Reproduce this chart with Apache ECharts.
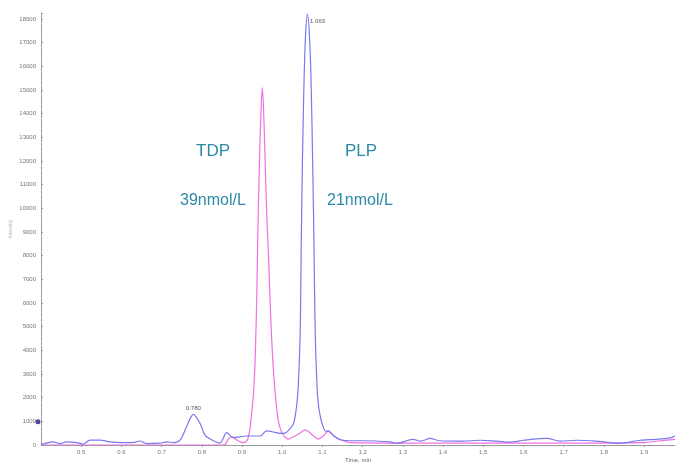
<!DOCTYPE html>
<html>
<head>
<meta charset="utf-8">
<script src="https://cdn.jsdelivr.net/npm/echarts@6/dist/echarts.min.js"></script>
<style>
  html, body { margin: 0; padding: 0; background: #fff; }
  #chart { width: 675px; height: 463px; }
</style>
</head>
<body>
<div id="chart"></div>
<script>
// PLP trace (blue), time in min / intensity
const plpTime = [
  0.400, 0.414, 0.430, 0.447, 0.464, 0.489, 0.505, 0.522, 0.547, 0.572,
  0.600, 0.629, 0.646, 0.663, 0.696, 0.713, 0.729, 0.746, 0.762, 0.779,
  0.796, 0.808, 0.829, 0.845, 0.862, 0.878, 0.912, 0.945, 0.961, 0.975,
  0.995, 1.007, 1.020, 1.028, 1.033, 1.038, 1.042, 1.045, 1.047, 1.050,
  1.054, 1.058, 1.063, 1.068, 1.072, 1.076, 1.079, 1.082, 1.086, 1.090,
  1.096, 1.102, 1.108, 1.114, 1.122, 1.131, 1.148, 1.169, 1.200, 1.268,
  1.285, 1.325, 1.345, 1.368, 1.390, 1.450, 1.492, 1.534, 1.567, 1.600,
  1.658, 1.691, 1.733, 1.782, 1.840, 1.890, 1.930, 1.965, 1.977
];
const plpValues = [
  30, 80, 130, 60, 130, 100, 40, 210, 210, 130,
  100, 100, 170, 60, 80, 130, 100, 210, 770, 1290,
  900, 420, 180, 80, 520, 310, 380, 380, 600, 560,
  490, 500, 700, 900, 1300, 2000, 3300, 5000, 8000, 11700,
  15200, 17300, 18200, 17200, 15200, 11700, 8400, 4800, 2700, 1700,
  1100, 750, 580, 600, 480, 350, 210, 180, 180, 130,
  70, 240, 160, 280, 180, 160, 200, 160, 120, 200,
  280, 160, 200, 160, 70, 200, 240, 300, 380
];

// TDP trace (pink)
const tdpTime = [
  0.400, 0.600, 0.850, 0.858, 0.866, 0.874, 0.887, 0.897, 0.905, 0.912,
  0.916, 0.920, 0.922, 0.925, 0.929, 0.932, 0.934, 0.937, 0.939, 0.943,
  0.947, 0.9505, 0.954, 0.958, 0.962, 0.965, 0.970, 0.974, 0.978, 0.982,
  0.986, 0.990, 0.996, 1.003, 1.015, 1.028, 1.040, 1.050, 1.057, 1.066,
  1.078, 1.090, 1.102, 1.115, 1.124, 1.135, 1.148, 1.170, 1.300, 1.500,
  1.700, 1.900, 1.940, 1.977
];
const tdpValues = [
  0, 0, 0, 20, 250, 350, 210, 120, 100, 170,
  350, 700, 1050, 1500, 2300, 3300, 4400, 6500, 8600, 11700,
  14000, 15100, 14000, 11700, 9500, 8400, 6000, 4400, 3200, 2300,
  1600, 1050, 650, 420, 250, 350, 450, 580, 640, 560,
  380, 250, 380, 600, 470, 300, 200, 100, 80, 80,
  80, 100, 180, 240
];

const xTicks = { min: 0.4, max: 1.977, interval: 0.1 };
const yTicks = { min: 0, max: 18250, interval: 1000 };

const peakLabels = [
  { name: '1.063', coord: [1.063, 18200], offset: [10, 7] },
  { name: '0.780', coord: [0.779, 1290], offset: [0, -6] }
];

const blue = '#7a78ee';
const pink = '#f070e2';

const chart = echarts.init(document.getElementById('chart'));

const option = {
  animation: false,
  backgroundColor: '#fff',
  grid: { left: 41, right: 0, top: 13, bottom: 18, containLabel: false, outerBoundsMode: 'none' },
  xAxis: {
    type: 'value',
    min: xTicks.min,
    max: xTicks.max,
    interval: xTicks.interval,
    name: 'Time, min',
    nameLocation: 'middle',
    nameGap: 12,
    nameMoveOverlap: false,
    nameTextStyle: { fontSize: 6, color: '#666' },
    axisLine: { lineStyle: { color: '#999', width: 1 } },
    axisTick: { show: true, length: 2, lineStyle: { color: '#999' } },
    splitLine: { show: false },
    axisLabel: {
      fontSize: 6,
      color: '#777',
      margin: 4,
      showMinLabel: false,
      showMaxLabel: false,
      formatter: v => v.toFixed(1)
    }
  },
  yAxis: {
    type: 'value',
    min: yTicks.min,
    max: yTicks.max,
    interval: yTicks.interval,
    name: 'Intensity',
    nameLocation: 'middle',
    nameGap: 28,
    nameMoveOverlap: false,
    nameTextStyle: { fontSize: 5, color: '#bbb' },
    axisLine: { show: true, lineStyle: { color: '#999', width: 1 } },
    axisTick: { show: true, inside: true, length: 2, lineStyle: { color: '#999' } },
    minorTick: { show: true, splitNumber: 5, length: 1, lineStyle: { color: '#bbb' } },
    splitLine: { show: false },
    axisLabel: {
      fontSize: 6,
      color: '#777',
      margin: 5,
      showMaxLabel: false,
      formatter: v => String(v)
    }
  },
  series: [
    {
      name: 'TDP',
      type: 'line',
      data: tdpTime.map((t, i) => [t, tdpValues[i]]),
      showSymbol: false,
      smooth: 0.3,
      lineStyle: { color: pink, width: 1.2 },
      itemStyle: { color: pink },
      z: 2
    },
    {
      name: 'PLP',
      type: 'line',
      data: plpTime.map((t, i) => [t, plpValues[i]]),
      showSymbol: false,
      smooth: 0.3,
      lineStyle: { color: blue, width: 1.2 },
      itemStyle: { color: blue },
      z: 3,
      markPoint: {
        symbol: 'circle',
        symbolSize: 0,
        label: { show: true, fontSize: 6, color: '#555', formatter: '{b}' },
        data: peakLabels.map(p => ({
          name: p.name,
          coord: p.coord,
          label: { offset: p.offset }
        }))
      }
    },
    {
      name: 'marker',
      type: 'scatter',
      data: [[0.4, 980]],
      symbol: 'circle',
      symbolSize: 5,
      symbolOffset: [-3, 0],
      clip: false,
      itemStyle: { color: '#1c1a8a' },
      z: 5
    }
  ],
  graphic: [
    { type: 'text', left: 196, top: 143, style: { text: 'TDP', fontSize: 17, fontFamily: 'Liberation Sans', fill: '#2b8aa6' } },
    { type: 'text', left: 180, top: 193, style: { text: '39nmol/L', fontSize: 16, fontFamily: 'Liberation Sans', fill: '#2b8aa6' } },
    { type: 'text', left: 345, top: 143, style: { text: 'PLP', fontSize: 17, fontFamily: 'Liberation Sans', fill: '#2b8aa6' } },
    { type: 'text', left: 327, top: 193, style: { text: '21nmol/L', fontSize: 16, fontFamily: 'Liberation Sans', fill: '#2b8aa6' } }
  ]
};

chart.setOption(option);
</script>
</body>
</html>
